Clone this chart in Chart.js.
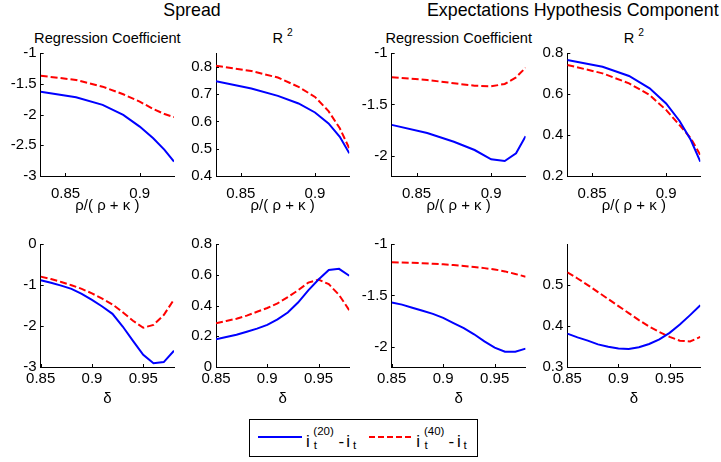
<!DOCTYPE html>
<html>
<head>
<meta charset="utf-8">
<script src="https://cdn.jsdelivr.net/npm/chart.js@4.4.1/dist/chart.umd.min.js"></script>
<style>
body { margin: 0; background: #fff; }
#fig { position: relative; width: 721px; height: 462px; overflow: hidden; font-family: 'Liberation Sans', Arial, sans-serif; color: #000; }
#fig canvas { position: absolute; }
.supTitle { position: absolute; top: 2.3px; font-size: 17.8px; line-height: 17.8px; white-space: nowrap; }
.subTitle { position: absolute; top: 30.6px; width: 200px; text-align: center; font-size: 14.6px; line-height: 14.6px; white-space: nowrap; }
.subTitle span { font-size: 10.3px; position: relative; top: -6.3px; }
#legenda { position: absolute; left: 249px; top: 419px; width: 229px; height: 38px; border: 1.5px solid #000; box-sizing: border-box; background: #fff; }
.lg { position: absolute; line-height: 1; white-space: nowrap; }
.amostra { position: absolute; height: 2px; }
</style>
</head>
<body>
<div id="fig">
    <div class="supTitle" style="left: 92px; width: 200px; text-align: center;">Spread</div>
    <div class="supTitle" style="left: 427px;">Expectations Hypothesis Component</div>

    <div class="subTitle" style="left: 7.4px;">Regression Coefficient</div>
    <div class="subTitle" style="left: 182.7px;">R <span>2</span></div>
    <div class="subTitle" style="left: 358.7px;">Regression Coefficient</div>
    <div class="subTitle" style="left: 533.8px;">R <span>2</span></div>

    <canvas id="g1"></canvas>
    <canvas id="g2"></canvas>
    <canvas id="g3"></canvas>
    <canvas id="g4"></canvas>
    <canvas id="g5"></canvas>
    <canvas id="g6"></canvas>
    <canvas id="g7"></canvas>
    <canvas id="g8"></canvas>

    <div id="legenda"></div>
    <div class="amostra" style="left: 258px; top: 436px; width: 44px; background: #0000ff;"></div>
    <span class="lg" style="left: 306px; top: 432.6px; font-size: 17px;">i</span>
    <span class="lg" style="left: 313.3px; top: 426px; font-size: 11.5px;">(20)</span>
    <span class="lg" style="left: 313.8px; top: 439.8px; font-size: 11.5px;">t</span>
    <span class="lg" style="left: 338.4px; top: 432.6px; font-size: 17px;">-</span>
    <span class="lg" style="left: 346.3px; top: 432.6px; font-size: 17px;">i</span>
    <span class="lg" style="left: 353px; top: 439.8px; font-size: 11.5px;">t</span>

    <div class="amostra" style="left: 369px; top: 436px; width: 42px; background: repeating-linear-gradient(to right, #ff0000 0 6px, transparent 6px 9px);"></div>
    <span class="lg" style="left: 416.3px; top: 432.6px; font-size: 17px;">i</span>
    <span class="lg" style="left: 424px; top: 426px; font-size: 11.5px;">(40)</span>
    <span class="lg" style="left: 424.5px; top: 439.8px; font-size: 11.5px;">t</span>
    <span class="lg" style="left: 448.4px; top: 432.6px; font-size: 17px;">-</span>
    <span class="lg" style="left: 457px; top: 432.6px; font-size: 17px;">i</span>
    <span class="lg" style="left: 463.5px; top: 439.8px; font-size: 11.5px;">t</span>
</div>

<script>
// eixo x de cima: rho/(rho+kappa), eixo x de baixo: delta
var xRho = [0.8333, 0.8571, 0.875, 0.8889, 0.9, 0.9091, 0.9167, 0.9231];
var xDelta = [0.85, 0.86, 0.87, 0.88, 0.89, 0.90, 0.91, 0.92, 0.93, 0.94, 0.95, 0.96, 0.97, 0.98];
var rhoTicks = [0.85, 0.9];
var deltaTicks = [0.85, 0.9, 0.95];

// Spread, linha de cima
var spreadCoef20 = [-1.625, -1.717, -1.84, -2.005, -2.195, -2.385, -2.575, -2.765];
var spreadCoef40 = [-1.365, -1.435, -1.544, -1.668, -1.788, -1.907, -1.99, -2.04];
var spreadR2_20 = [0.748, 0.721, 0.694, 0.666, 0.633, 0.593, 0.544, 0.483];
var spreadR2_40 = [0.804, 0.785, 0.761, 0.727, 0.690, 0.638, 0.575, 0.501];

// Expectations Hypothesis, linha de cima
var ehCoef20 = [-1.70, -1.78, -1.865, -1.946, -2.037, -2.053, -1.978, -1.81];
var ehCoef40 = [-1.235, -1.261, -1.293, -1.317, -1.323, -1.30, -1.235, -1.141];
var ehR2_20 = [0.767, 0.734, 0.689, 0.629, 0.555, 0.469, 0.376, 0.270];
var ehR2_40 = [0.743, 0.702, 0.653, 0.596, 0.523, 0.449, 0.384, 0.303];

// Spread, linha de baixo (delta)
var spreadCoefD20 = [-0.88, -0.94, -1.01, -1.09, -1.21, -1.36, -1.52, -1.70, -2.01, -2.36, -2.70, -2.91, -2.88, -2.60];
var spreadCoefD40 = [-0.79, -0.85, -0.92, -1.0, -1.09, -1.20, -1.33, -1.47, -1.66, -1.87, -2.04, -1.97, -1.73, -1.35];
var spreadR2D20 = [0.18, 0.195, 0.21, 0.23, 0.25, 0.275, 0.31, 0.355, 0.42, 0.50, 0.57, 0.632, 0.64, 0.595];
var spreadR2D40 = [0.285, 0.30, 0.315, 0.335, 0.36, 0.385, 0.415, 0.455, 0.50, 0.55, 0.57, 0.54, 0.47, 0.37];

// Expectations Hypothesis, linha de baixo (delta)
var ehCoefD20 = [-1.57, -1.59, -1.62, -1.65, -1.68, -1.72, -1.77, -1.82, -1.88, -1.95, -2.01, -2.05, -2.05, -2.02];
var ehCoefD40 = [-1.175, -1.178, -1.181, -1.185, -1.19, -1.196, -1.203, -1.212, -1.222, -1.233, -1.246, -1.265, -1.29, -1.317];
var ehR2D20 = [0.381, 0.372, 0.364, 0.355, 0.349, 0.345, 0.344, 0.348, 0.356, 0.367, 0.383, 0.403, 0.426, 0.45];
var ehR2D40 = [0.530, 0.515, 0.499, 0.482, 0.465, 0.448, 0.431, 0.414, 0.398, 0.385, 0.373, 0.364, 0.362, 0.373];

// posicao das areas de plot (px)
var colLeft = [40.7, 216, 391.7, 567.3];
var colRight = [174, 349.3, 525.6, 700.3];
var rowTop = [53.3, 244.3];
var rowBottom = [176, 367];
var rowCanvasTop = [40, 220];
var rowCanvasBottom = [215, 408];

var paineis = [
    { id: 'g1', row: 0, col: 0, xs: xRho, s20: spreadCoef20, s40: spreadCoef40, yMin: -3, yMax: -1, yTicks: [-3, -2.5, -2, -1.5, -1] },
    { id: 'g2', row: 0, col: 1, xs: xRho, s20: spreadR2_20, s40: spreadR2_40, yMin: 0.4, yMax: 0.85, yTicks: [0.4, 0.5, 0.6, 0.7, 0.8] },
    { id: 'g3', row: 0, col: 2, xs: xRho, s20: ehCoef20, s40: ehCoef40, yMin: -2.2, yMax: -1, yTicks: [-2, -1.5, -1] },
    { id: 'g4', row: 0, col: 3, xs: xRho, s20: ehR2_20, s40: ehR2_40, yMin: 0.2, yMax: 0.8, yTicks: [0.2, 0.4, 0.6, 0.8] },
    { id: 'g5', row: 1, col: 0, xs: xDelta, s20: spreadCoefD20, s40: spreadCoefD40, yMin: -3, yMax: 0, yTicks: [-3, -2, -1, 0] },
    { id: 'g6', row: 1, col: 1, xs: xDelta, s20: spreadR2D20, s40: spreadR2D40, yMin: 0, yMax: 0.8, yTicks: [0, 0.2, 0.4, 0.6, 0.8] },
    { id: 'g7', row: 1, col: 2, xs: xDelta, s20: ehCoefD20, s40: ehCoefD40, yMin: -2.2, yMax: -1, yTicks: [-2, -1.5, -1] },
    { id: 'g8', row: 1, col: 3, xs: xDelta, s20: ehR2D20, s40: ehR2D40, yMin: 0.3, yMax: 0.598, yTicks: [0.3, 0.4, 0.5] }
];

Chart.defaults.font.family = "'Liberation Sans', Arial, sans-serif";
Chart.defaults.color = '#000';

// ticks pra dentro, estilo matlab
var ticksInternos = {
    id: 'ticksInternos',
    afterDraw: function (chart) {
        var ctx = chart.ctx;
        var area = chart.chartArea;
        var sx = chart.scales.x;
        var sy = chart.scales.y;
        ctx.save();
        ctx.strokeStyle = '#000';
        ctx.lineWidth = 1;
        ctx.beginPath();
        sx.ticks.forEach(function (t) {
            var px = Math.round(sx.getPixelForValue(t.value)) + 0.5;
            ctx.moveTo(px, area.bottom);
            ctx.lineTo(px, area.bottom - 3);
        });
        sy.ticks.forEach(function (t) {
            var py = Math.round(sy.getPixelForValue(t.value)) + 0.5;
            ctx.moveTo(area.left, py);
            ctx.lineTo(area.left + 3, py);
        });
        ctx.stroke();
        ctx.restore();
    }
};

function PegarPontos(xs, ys) {
    var pontos = [];
    var indice = 0;
    while (indice < xs.length) {
        pontos.push({ x: xs[indice], y: ys[indice] });
        indice++;
    }
    return pontos;
}

function Rotulo(valor) {
    return String(Math.round(valor * 1000) / 1000);
}

function CriarGrafico(p) {
    var topo = p.row === 0;
    var canvas = document.getElementById(p.id);
    var esquerda = Math.floor(colLeft[p.col]) - 40;
    var largura = Math.ceil(colRight[p.col]) + 12 - esquerda;
    var cTop = rowCanvasTop[p.row];
    var altura = rowCanvasBottom[p.row] - cTop;

    canvas.width = largura;
    canvas.height = altura;
    canvas.style.left = esquerda + 'px';
    canvas.style.top = cTop + 'px';

    var xs = p.xs;
    var xTicks = topo ? rhoTicks : deltaTicks;

    return new Chart(canvas.getContext('2d'), {
        type: 'line',
        data: {
            datasets: [{
                label: 'i(20) - i',
                data: PegarPontos(xs, p.s20),
                borderColor: '#0000ff',
                borderWidth: 2,
                pointRadius: 0,
                tension: 0,
                fill: false
            }, {
                label: 'i(40) - i',
                data: PegarPontos(xs, p.s40),
                borderColor: '#ff0000',
                borderWidth: 2,
                borderDash: [7, 3],
                pointRadius: 0,
                tension: 0,
                fill: false
            }]
        },
        options: {
            responsive: false,
            animation: false,
            devicePixelRatio: 1,
            layout: {
                padding: { top: rowTop[p.row] - cTop, left: 0, bottom: 0, right: esquerda + largura - colRight[p.col] }
            },
            plugins: {
                legend: { display: false },
                tooltip: { enabled: false }
            },
            scales: {
                x: {
                    type: 'linear',
                    min: xs[0],
                    max: xs[xs.length - 1],
                    grid: { display: false, drawTicks: false },
                    border: { display: true, color: '#000', width: 1 },
                    ticks: { padding: topo ? 9 : 3, font: { size: 15 }, maxRotation: 0, autoSkip: false, callback: Rotulo },
                    afterBuildTicks: function (s) {
                        s.ticks = xTicks.map(function (v) { return { value: v }; });
                    },
                    afterFit: function (s) {
                        s.height = rowCanvasBottom[p.row] - rowBottom[p.row];
                    },
                    title: {
                        display: true,
                        text: topo ? '\u03c1/( \u03c1 + \u03ba )' : '\u03b4',
                        font: { size: 15 },
                        padding: 0
                    }
                },
                y: {
                    type: 'linear',
                    min: p.yMin,
                    max: p.yMax,
                    grid: { display: false, drawTicks: false },
                    border: { display: true, color: '#000', width: 1 },
                    ticks: { padding: 4, font: { size: 15 }, autoSkip: false, callback: Rotulo },
                    afterBuildTicks: function (s) {
                        s.ticks = p.yTicks.map(function (v) { return { value: v }; });
                    },
                    afterFit: function (s) {
                        s.width = colLeft[p.col] - esquerda;
                    }
                }
            }
        },
        plugins: [ticksInternos]
    });
}

paineis.forEach(CriarGrafico);
</script>
</body>
</html>
